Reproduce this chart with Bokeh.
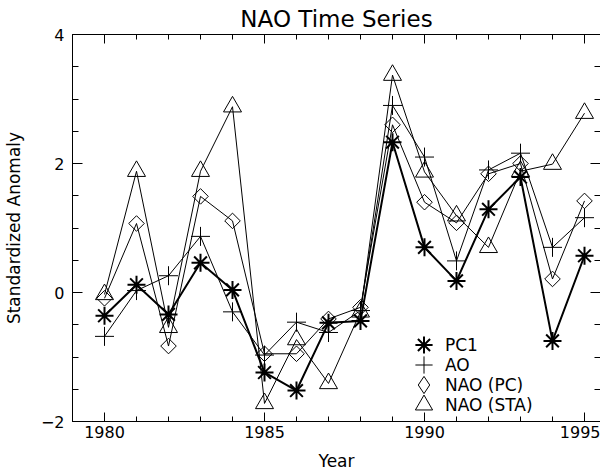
import numpy as np
from bokeh.plotting import figure
from bokeh.models import Range1d, LinearAxis, FixedTicker, Legend, LegendItem
from bokeh.embed import file_html
from bokeh.resources import INLINE

years = list(range(1980, 1996))
pc1 = [-0.36, 0.12, -0.34, 0.46, 0.04, -1.24, -1.52, -0.47, -0.44, 2.33, 0.70, 0.18, 1.29, 1.79, -0.75, 0.57]
ao = [-0.68, 0.03, 0.26, 0.87, -0.30, -0.97, -0.46, -0.62, -0.28, 2.90, 2.10, 0.49, 1.90, 2.16, 0.70, 1.16]
nao_pc = [-0.09, 1.07, -0.83, 1.49, 1.11, -0.95, -0.95, -0.41, -0.23, 2.60, 1.40, 1.08, 1.84, 2.00, 0.21, 1.42]
nao_sta = [-0.03, 1.88, -0.54, 1.88, 2.88, -1.72, -0.73, -1.41, -0.30, 3.37, 1.87, 1.19, 0.70, 1.88, 1.99, 2.78]
labels = ["PC1", "AO", "NAO (PC)", "NAO (STA)"]
x_major = [1980, 1985, 1990, 1995]
x_minor = list(range(1979, 1997))
y_major = [-2, 0, 2, 4]
y_minor = [v / 2 for v in range(-4, 9)]
y_tick_labels = {-2: "\u22122", 0: "0", 2: "2", 4: "4"}

FONT = "DejaVu Sans"

p = figure(frame_width=528, frame_height=387, x_range=Range1d(1979, 1995.5), y_range=Range1d(-2, 4),
           output_backend="svg", toolbar_location=None,
           min_border_left=63, min_border_right=0, min_border_top=27, min_border_bottom=40)
p.grid.visible = False
p.outline_line_color = None
p.background_fill_color = "white"
p.border_fill_color = "white"

p.title.text = "NAO Time Series"
p.title.align = "center"
p.title.text_font = FONT
p.title.text_font_size = "23px"
p.title.text_font_style = "normal"
p.title.text_color = "black"
p.title.standoff = 6
p.title.offset = 0

xt = FixedTicker(ticks=x_major, minor_ticks=x_minor)
yt = FixedTicker(ticks=y_major, minor_ticks=y_minor)

def style(ax, ticker, tin, tmin):
    ax.ticker = ticker
    ax.major_tick_in = tin
    ax.major_tick_out = 0
    ax.minor_tick_in = tmin
    ax.minor_tick_out = 0
    ax.axis_line_color = "black"
    ax.major_tick_line_color = "black"
    ax.minor_tick_line_color = "black"
    ax.major_label_text_font = FONT
    ax.major_label_text_font_size = "16px"
    ax.major_label_text_color = "black"
    ax.axis_label_text_font = FONT
    ax.axis_label_text_font_style = "normal"
    ax.axis_label_text_color = "black"

xa = p.xaxis[0]
style(xa, xt, 9, 5)
xa.major_label_standoff = 4
xa.axis_label = "Year"
xa.axis_label_text_font_size = "17px"
xa.axis_label_standoff = 10

ya = p.yaxis[0]
style(ya, yt, 10, 6)
ya.major_label_standoff = 8
ya.major_label_text_align = "right"
ya.major_label_overrides = y_tick_labels
ya.axis_label = "Standardized Anomaly"
ya.axis_label_text_font_size = "17px"
ya.axis_label_standoff = 14

top = LinearAxis()
style(top, xt, 9, 5)
top.major_label_overrides = {t: "" for t in x_major}
top.major_label_standoff = 0
p.add_layout(top, "above")

right = LinearAxis()
style(right, yt, 10, 6)
right.major_label_overrides = {t: "" for t in y_major}
right.major_label_standoff = 0
right.axis_line_color = None
p.add_layout(right, "right")

# lines
p.line(years, nao_sta, line_color="black", line_width=1)
p.line(years, nao_pc, line_color="black", line_width=1)
p.line(years, ao, line_color="black", line_width=1)
p.line(years, pc1, line_color="black", line_width=2)

r_sta = p.scatter(years, nao_sta, marker="triangle", size=18, line_color="black", line_width=1, fill_color=None)
r_pc = p.scatter(years, nao_pc, marker="square", angle=np.pi / 4, size=11, line_color="black", line_width=1, fill_color=None)
r_ao = p.scatter(years, ao, marker="cross", size=19, line_color="black", line_width=1)
r_pc1 = p.scatter(years, pc1, marker="asterisk", size=18, line_color="black", line_width=2)

# hidden renderer used only to draw an upright diamond key in the legend
r_pc_leg = p.scatter(years, nao_pc, marker="diamond", size=16, line_color="black", line_width=1, fill_color=None)
r_pc_leg.visible = False

legend_renderers = [r_pc1, r_ao, r_pc_leg, r_sta]
for i, (lab, rend) in enumerate(zip(labels, legend_renderers)):
    lg = Legend(items=[LegendItem(label=lab, renderers=[rend])],
                location=(330, 55 - 20 * i), glyph_width=43, glyph_height=43, padding=0, margin=0,
                label_standoff=0, border_line_color=None, background_fill_alpha=0,
                label_text_font=FONT, label_text_font_size="17px", label_text_color="black")
    p.add_layout(lg, "center")

open("out.html", "w").write(file_html(p, INLINE))
